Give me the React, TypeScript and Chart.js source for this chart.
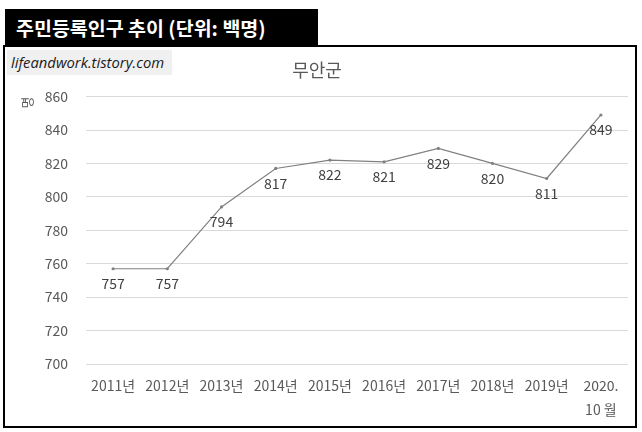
import React, { useEffect, useRef } from "react";
import { Chart, registerables } from "chart.js";

Chart.register(...registerables);

// 무안군 주민등록인구 (단위: 백명)
const years: (string | string[])[] = [
  "2011년",
  "2012년",
  "2013년",
  "2014년",
  "2015년",
  "2016년",
  "2017년",
  "2018년",
  "2019년",
  ["2020.", "10 월"],
];
const population = [757, 757, 794, 817, 822, 821, 829, 820, 811, 849];
const yMin = 700;
const yMax = 860;
const yStep = 20;

const FONT = "'Noto Sans CJK KR', 'Noto Sans', sans-serif";

// 각 점 아래에 값 표시
const valueLabels = {
  id: "valueLabels",
  afterDatasetsDraw(chart: Chart) {
    const ctx = chart.ctx;
    const meta = chart.getDatasetMeta(0);
    const values = chart.data.datasets[0].data as number[];
    ctx.save();
    ctx.font = `14px ${FONT}`;
    ctx.fillStyle = "#404040";
    ctx.textAlign = "center";
    ctx.textBaseline = "middle";
    meta.data.forEach((pt, i) => {
      ctx.fillText(String(values[i]), pt.x, pt.y + 15);
    });
    ctx.restore();
  },
};

export default function App() {
  const canvasEl = useRef<HTMLCanvasElement>(null);

  useEffect(() => {
    if (!canvasEl.current) return;
    const ctx = canvasEl.current.getContext("2d");
    if (!ctx) return;

    const chart = new Chart(ctx, {
      type: "line",
      data: {
        labels: years,
        datasets: [
          {
            data: population,
            borderColor: "#808080",
            borderWidth: 1.2,
            pointRadius: 1.6,
            pointBackgroundColor: "#808080",
            pointBorderWidth: 0,
            tension: 0,
          },
        ],
      },
      options: {
        responsive: false,
        animation: false,
        layout: { padding: { top: 48, left: 6, right: 14, bottom: 0 } },
        plugins: {
          legend: { display: false },
          tooltip: { enabled: false },
          title: {
            display: true,
            text: "무안군",
            color: "#595959",
            font: { family: FONT, size: 18, weight: "normal" },
            padding: { top: 11, bottom: 16 },
          },
        },
        scales: {
          x: {
            offset: true,
            grid: { display: false, drawTicks: false },
            border: { display: false },
            ticks: {
              color: "#595959",
              padding: 10,
              maxRotation: 0,
              autoSkip: false,
              font: { family: FONT, size: 14, lineHeight: 24 / 14 },
            },
          },
          y: {
            min: yMin,
            max: yMax,
            afterFit(scale) {
              scale.width = 80;
            },
            grid: { color: "#d9d9d9", drawTicks: false },
            border: { display: false },
            ticks: {
              stepSize: yStep,
              color: "#595959",
              padding: 18,
              font: { family: FONT, size: 14 },
            },
            title: {
              display: true,
              text: "명",
              align: "end",
              color: "#595959",
              font: { family: FONT, size: 13 },
              padding: { top: 13, bottom: 0 },
            },
          },
        },
      },
      plugins: [valueLabels],
    });

    return () => {
      chart.destroy();
    };
  }, []);

  return (
    <div style={{ position: "fixed", left: 0, top: 0, width: 642, height: 432, background: "#fff" }}>
      <div
        style={{
          position: "absolute",
          left: 3,
          top: 45,
          width: 634,
          height: 383,
          border: "2px solid #000",
          boxSizing: "border-box",
        }}
      />
      <div
        style={{
          position: "absolute",
          left: 5,
          top: 9,
          width: 313,
          height: 37,
          background: "#000",
          color: "#fff",
          fontFamily: FONT,
          fontWeight: "bold",
          fontSize: 19.5,
          lineHeight: "37px",
          paddingLeft: 11,
          boxSizing: "border-box",
          whiteSpace: "nowrap",
        }}
      >
        주민등록인구 추이 (단위: 백명)
      </div>
      <canvas
        ref={canvasEl}
        width={642}
        height={432}
        style={{ position: "absolute", left: 0, top: 0 }}
      />
      <div
        style={{
          position: "absolute",
          left: 7,
          top: 50,
          width: 165,
          height: 25,
          background: "#f0f0f0",
          color: "#1a1a1a",
          fontFamily: "'Open Sans', sans-serif",
          fontStyle: "italic",
          fontSize: 14.8,
          lineHeight: "25px",
          paddingLeft: 4,
          boxSizing: "border-box",
          whiteSpace: "nowrap",
        }}
      >
        lifeandwork.tistory.com
      </div>
    </div>
  );
}
